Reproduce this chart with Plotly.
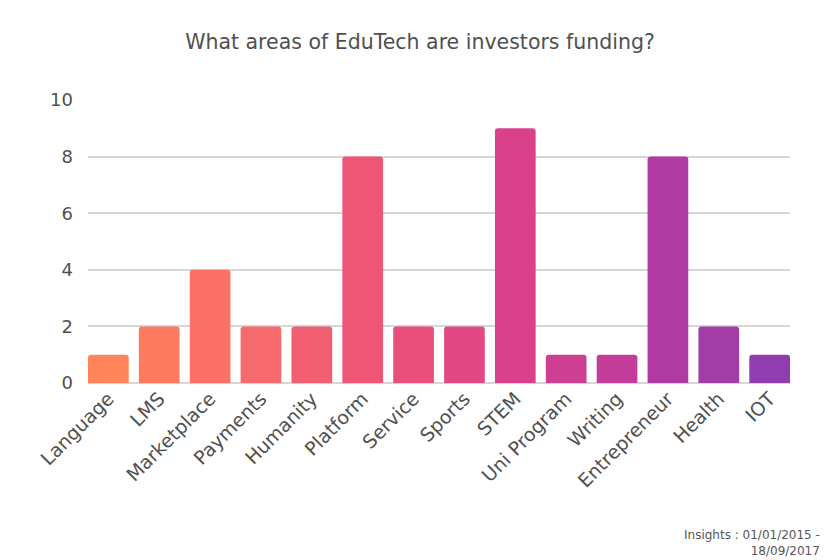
import plotly.graph_objects as go

categories = ["Language", "LMS", "Marketplace", "Payments", "Humanity", "Platform",
              "Service", "Sports", "STEM", "Uni Program", "Writing", "Entrepreneur",
              "Health", "IOT"]
values = [1, 2, 4, 2, 2, 8, 2, 2, 9, 1, 1, 8, 2, 1]
colors = ["#FE8459", "#FC7B5E", "#F97168", "#F6696D", "#F25F71", "#EE5675",
          "#E84F7D", "#E24984", "#D9428A", "#CC3F93", "#C23E9A", "#B13CA1",
          "#A23CA6", "#8F3DAF"]
y_ticks = [0, 2, 4, 6, 8, 10]

font = "'DejaVu Sans', Verdana, sans-serif"
txt = "#505050"

fig = go.Figure(go.Bar(
    x=categories, y=values,
    marker=dict(color=colors, line=dict(width=0), cornerradius=3),
))

fig.update_layout(
    width=840, height=560,
    margin=dict(l=88, r=50, t=100, b=177),
    paper_bgcolor="white", plot_bgcolor="white",
    bargap=0.2,
    showlegend=False,
    font=dict(family=font, color=txt),
    title=dict(text="What areas of EduTech are investors funding?",
               x=0.5, xanchor="center", y=0.925, yanchor="middle",
               font=dict(size=20.5, color=txt, family=font)),
    xaxis=dict(tickangle=-45, tickfont=dict(size=19, color=txt),
               range=[-0.4, len(categories) - 0.6],
               showgrid=False, showline=False, ticks=""),
    yaxis=dict(range=[0, 10], tickvals=y_ticks, tickfont=dict(size=18, color=txt),
               showgrid=True, gridcolor="#d6d6d6", gridwidth=1.5,
               zeroline=True, zerolinecolor="#d6d6d6", zerolinewidth=1.5,
               ticks="", ticklabelstandoff=14),
    annotations=[dict(text="Insights : 01/01/2015 -<br>18/09/2017",
                      xref="paper", yref="paper", x=1.0, y=-0.505,
                      xanchor="right", yanchor="top", xshift=32, align="right",
                      showarrow=False, font=dict(size=12, color="#555", family=font))],
)

fig.write_html("out.html")
